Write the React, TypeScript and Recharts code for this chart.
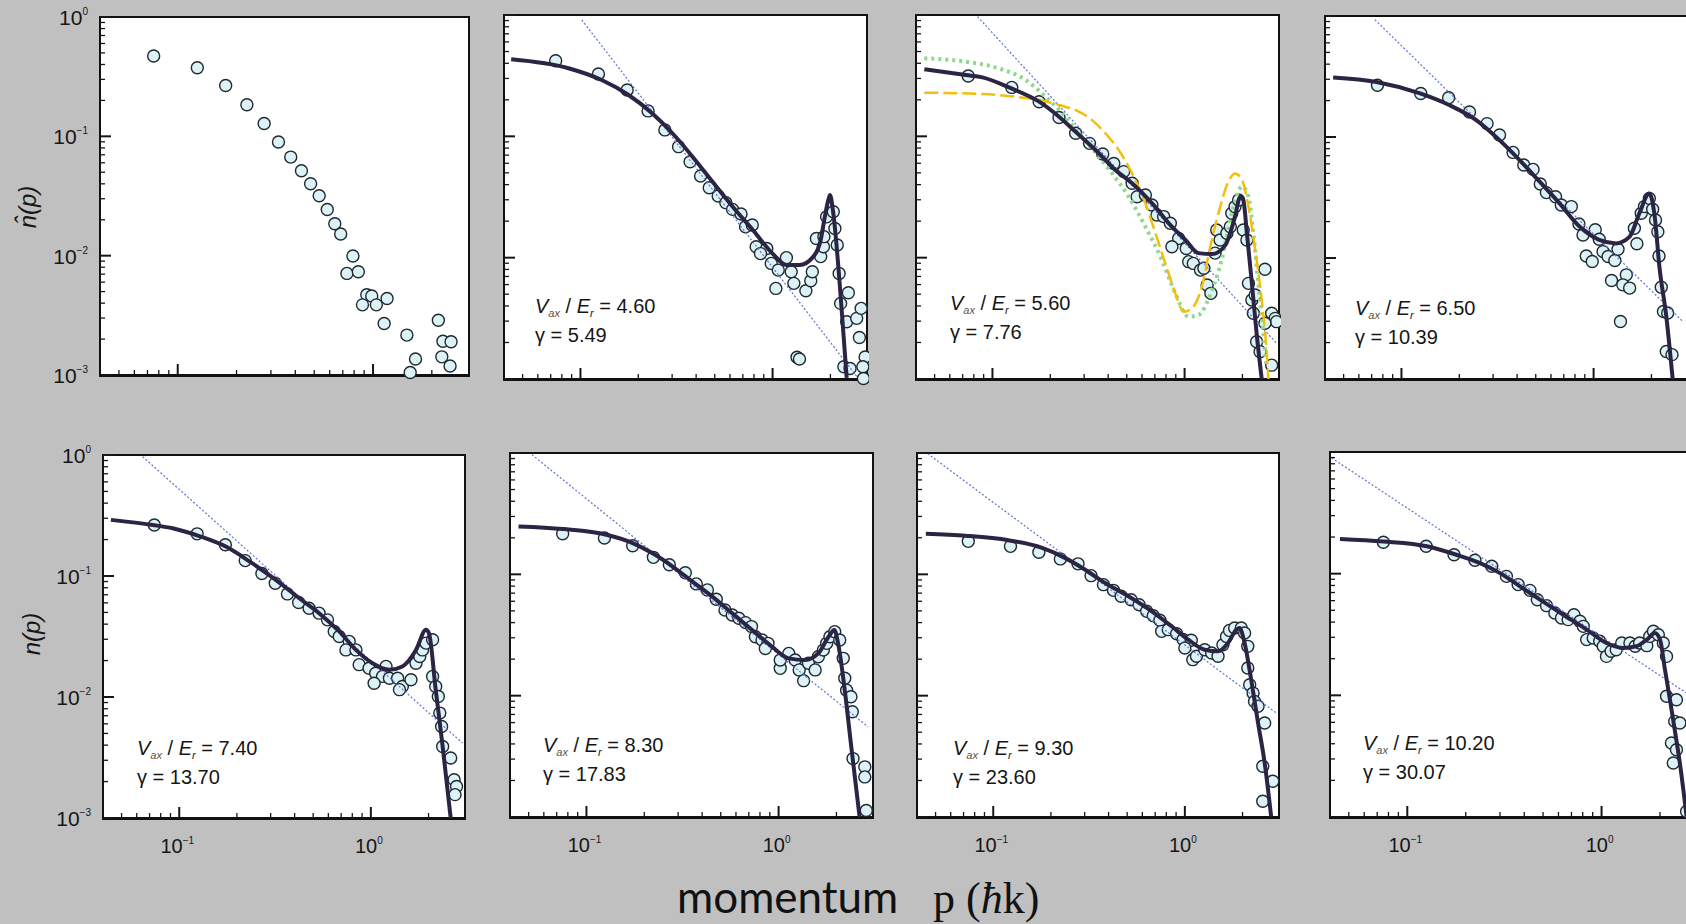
import React from "react";
import { ComposedChart, Line, Scatter, XAxis, YAxis } from "recharts";

type Pt = [number, number];

// ---- axes ----
const X_DOMAIN: [number, number] = [0.04, 3.1];
const Y_DOMAIN: [number, number] = [0.001, 1];
const X_TICKS = [0.05, 0.06, 0.07, 0.08, 0.09, 0.1, 0.2, 0.3, 0.4, 0.5, 0.6, 0.7, 0.8, 0.9, 1, 2];
const Y_TICKS = [
  0.001, 0.002, 0.003, 0.004, 0.005, 0.006, 0.007, 0.008, 0.009,
  0.01, 0.02, 0.03, 0.04, 0.05, 0.06, 0.07, 0.08, 0.09,
  0.1, 0.2, 0.3, 0.4, 0.5, 0.6, 0.7, 0.8, 0.9, 1,
];
const X_MAJOR = [0.1, 1];
const X_EXP = ["\u22121", "0"];
const Y_MAJOR = [0.001, 0.01, 0.1, 1];
const Y_EXP = ["\u22123", "\u22122", "\u22121", "0"];

// ---- panel captions ----
const V_RATIO = ["4.60", "5.60", "6.50", "7.40", "8.30", "9.30", "10.20"];
const GAMMA = ["5.49", "7.76", "10.39", "13.70", "17.83", "23.60", "30.07"];

// ---- measured n(p) and fits, [p, n] ----
const P1_POINTS: Pt[] = [
  [0.0753, 0.471], [0.126, 0.376], [0.176, 0.267], [0.226, 0.184], [0.277, 0.128], [0.328, 0.0896],
  [0.379, 0.067], [0.43, 0.0515], [0.479, 0.0401], [0.53, 0.0318], [0.583, 0.0244], [0.637, 0.0185],
  [0.683, 0.0152], [0.789, 0.00993], [0.735, 0.0071], [0.841, 0.00733], [0.929, 0.0047], [0.985, 0.00459],
  [0.883, 0.00387], [1.04, 0.00387], [1.18, 0.00438], [1.14, 0.0027], [1.49, 0.00216], [1.65, 0.00136],
  [1.55, 0.00105], [2.16, 0.00288], [2.28, 0.00192], [2.51, 0.0019], [2.25, 0.00142], [2.48, 0.00119],
];

const P2_POINTS: Pt[] = [
  [0.0743, 0.42], [0.124, 0.326], [0.175, 0.241], [0.225, 0.162], [0.275, 0.113], [0.324, 0.0822],
  [0.372, 0.0618], [0.422, 0.0471], [0.468, 0.0377], [0.521, 0.0322], [0.571, 0.0284], [0.619, 0.025],
  [0.685, 0.0229], [0.723, 0.018], [0.784, 0.0186], [0.821, 0.0123], [0.933, 0.0119], [0.865, 0.0108],
  [0.984, 0.00897], [1.18, 0.01], [1.07, 0.0079], [1.25, 0.00766], [1.04, 0.00558], [1.29, 0.00614],
  [1.49, 0.00534], [1.58, 0.00645], [1.61, 0.00766], [1.69, 0.0144], [1.78, 0.0102], [1.84, 0.0123],
  [1.85, 0.0149], [1.91, 0.0217], [2.07, 0.0239], [2.11, 0.0174], [2.17, 0.0127], [2.22, 0.00742],
  [2.26, 0.0042], [2.48, 0.00514], [2.43, 0.00296], [2.74, 0.00316], [2.89, 0.00382], [2.83, 0.0022],
  [3.03, 0.00152], [2.95, 0.00126], [2.97, 0.00101], [2.35, 0.00126], [2.53, 0.00122], [1.34, 0.00151],
  [1.38, 0.00146],
];
const P2_FIT: Pt[] = [
  [0.0436, 0.431], [0.0866, 0.364], [0.129, 0.291], [0.178, 0.219], [0.236, 0.155], [0.301, 0.106],
  [0.383, 0.068], [0.487, 0.0422], [0.62, 0.0263], [0.789, 0.0169], [1.0, 0.0108], [1.18, 0.0087],
  [1.38, 0.0087], [1.63, 0.0102], [1.78, 0.014], [1.87, 0.0217], [1.95, 0.0298], [1.99, 0.0328],
  [2.07, 0.0232], [2.2, 0.0084], [2.33, 0.00253], [2.43, 0.00102],
];
const P2_POWER: Pt[] = [[0.1016, 0.91], [2.74, 0.00105]];

const P3_POINTS: Pt[] = [
  [0.0748, 0.314], [0.126, 0.253], [0.175, 0.193], [0.222, 0.143], [0.271, 0.106], [0.32, 0.0875],
  [0.375, 0.0715], [0.428, 0.0598], [0.482, 0.0512], [0.533, 0.041], [0.566, 0.0318], [0.625, 0.0328],
  [0.676, 0.0272], [0.718, 0.0225], [0.778, 0.0218], [0.843, 0.0192], [0.931, 0.0144], [0.859, 0.0123],
  [1.02, 0.0119], [1.05, 0.00927], [1.11, 0.00897], [1.21, 0.0079], [1.26, 0.00817], [1.31, 0.00595],
  [1.37, 0.00508], [1.47, 0.0169], [1.53, 0.014], [1.44, 0.0109], [1.66, 0.0159], [1.73, 0.018],
  [1.76, 0.0232], [1.83, 0.0263], [1.91, 0.0299], [2.02, 0.0169], [2.11, 0.014], [2.15, 0.00614],
  [2.24, 0.00448], [2.33, 0.00492], [2.28, 0.00348], [2.62, 0.00802], [2.37, 0.00203], [2.47, 0.00168],
  [2.84, 0.00348], [2.96, 0.00316], [3.01, 0.00297], [2.84, 0.0013], [2.62, 0.00288],
];
const P3_FIT: Pt[] = [
  [0.0442, 0.357], [0.0727, 0.32], [0.0887, 0.306], [0.122, 0.253], [0.175, 0.193], [0.222, 0.145],
  [0.271, 0.109], [0.344, 0.0771], [0.436, 0.0528], [0.533, 0.041], [0.676, 0.0281], [0.859, 0.018],
  [1.01, 0.014], [1.18, 0.0109], [1.39, 0.0107], [1.63, 0.0127], [1.83, 0.0218], [1.95, 0.0318],
  [2.02, 0.0299], [2.11, 0.0159], [2.24, 0.00614], [2.37, 0.00238], [2.52, 0.001],
];
const P3_GREEN: Pt[] = [
  [0.0442, 0.44], [0.0727, 0.412], [0.108, 0.363], [0.149, 0.291], [0.189, 0.212], [0.231, 0.155],
  [0.282, 0.106], [0.358, 0.068], [0.42, 0.0495], [0.512, 0.0318], [0.625, 0.018], [0.762, 0.00957],
  [0.895, 0.00508], [1.05, 0.00326], [1.18, 0.00337], [1.39, 0.00542], [1.56, 0.00957], [1.76, 0.0232],
  [1.99, 0.0385], [2.15, 0.0318], [2.28, 0.0159], [2.42, 0.00614], [2.57, 0.00238], [2.67, 0.00126],
];
const P3_YELLOW: Pt[] = [
  [0.0442, 0.229], [0.0887, 0.223], [0.132, 0.212], [0.175, 0.199], [0.222, 0.181], [0.282, 0.16],
  [0.33, 0.136], [0.387, 0.106], [0.454, 0.0771], [0.533, 0.0495], [0.625, 0.0281], [0.705, 0.0159],
  [0.794, 0.00897], [0.895, 0.00508], [0.989, 0.00359], [1.09, 0.00382], [1.23, 0.00577], [1.36, 0.0123],
  [1.5, 0.0232], [1.69, 0.0423], [1.83, 0.0495], [1.99, 0.0437], [2.15, 0.0263], [2.33, 0.0116],
  [2.52, 0.00448], [2.67, 0.00173], [2.73, 0.001],
];
const P3_POWER: Pt[] = [[0.0836, 0.97], [3.01, 0.00197]];

const P4_POINTS: Pt[] = [
  [0.075, 0.268], [0.126, 0.229], [0.176, 0.211], [0.226, 0.161], [0.279, 0.129], [0.324, 0.104],
  [0.381, 0.0746], [0.433, 0.0587], [0.484, 0.054], [0.528, 0.0409], [0.568, 0.0347], [0.634, 0.0321],
  [0.679, 0.0274], [0.766, 0.0266], [0.839, 0.0191], [0.881, 0.0155], [1.02, 0.0171], [1.07, 0.0143],
  [0.916, 0.0104], [0.984, 0.00935], [1.12, 0.0113], [1.19, 0.0103], [1.29, 0.00953], [1.34, 0.0118],
  [1.24, 0.00652], [1.48, 0.00726], [1.42, 0.006], [1.54, 0.00564], [1.38, 0.00299], [1.63, 0.0176],
  [1.68, 0.0131], [1.77, 0.0234], [1.84, 0.0266], [1.95, 0.0311], [2.03, 0.0253], [2.1, 0.0206],
  [2.16, 0.0165], [2.19, 0.0104], [2.25, 0.00574], [2.31, 0.00361], [2.43, 0.00351], [2.39, 0.00169],
  [2.56, 0.00159],
];
const P4_FIT: Pt[] = [
  [0.0441, 0.31], [0.0741, 0.285], [0.125, 0.229], [0.178, 0.183], [0.245, 0.138], [0.324, 0.0942],
  [0.412, 0.0645], [0.524, 0.0427], [0.665, 0.0283], [0.845, 0.0182], [1.07, 0.0141], [1.31, 0.0132],
  [1.54, 0.015], [1.73, 0.0234], [1.95, 0.0342], [2.08, 0.022], [2.2, 0.00851], [2.39, 0.00329],
  [2.58, 0.001],
];
const P4_POWER: Pt[] = [[0.0727, 0.933], [2.91, 0.00299]];

const P5_POINTS: Pt[] = [
  [0.0741, 0.264], [0.124, 0.223], [0.174, 0.181], [0.221, 0.134], [0.27, 0.105], [0.317, 0.0871],
  [0.367, 0.0711], [0.42, 0.0604], [0.476, 0.0542], [0.537, 0.0493], [0.594, 0.0434], [0.644, 0.0348],
  [0.684, 0.0316], [0.771, 0.0288], [0.741, 0.0245], [0.836, 0.0245], [0.869, 0.0185], [0.979, 0.0173],
  [1.06, 0.0157], [1.2, 0.0179], [1.15, 0.0148], [1.04, 0.013], [1.25, 0.0143], [1.38, 0.0143],
  [1.46, 0.0122], [1.62, 0.0139], [1.41, 0.0115], [1.72, 0.019], [1.8, 0.0216], [1.86, 0.0245],
  [1.94, 0.0279], [2.1, 0.0297], [2.1, 0.0148], [2.18, 0.0122], [2.25, 0.0101], [2.29, 0.00736],
  [2.34, 0.00571], [2.37, 0.0039], [2.61, 0.00313], [2.72, 0.00207], [2.8, 0.00182], [2.75, 0.00156],
];
const P5_FIT: Pt[] = [
  [0.044, 0.291], [0.0726, 0.264], [0.0923, 0.248], [0.127, 0.214], [0.175, 0.175], [0.241, 0.127],
  [0.319, 0.0929], [0.423, 0.0655], [0.537, 0.0493], [0.684, 0.0348], [0.836, 0.0245], [1.02, 0.019],
  [1.25, 0.0168], [1.46, 0.0179], [1.72, 0.0245], [1.94, 0.0359], [2.01, 0.0337], [2.18, 0.0115],
  [2.37, 0.0039], [2.61, 0.001],
];
const P5_POWER: Pt[] = [[0.0644, 0.97], [3.01, 0.00416]];

const P6_POINTS: Pt[] = [
  [0.0752, 0.216], [0.124, 0.199], [0.174, 0.172], [0.223, 0.138], [0.27, 0.12], [0.327, 0.103],
  [0.373, 0.0834], [0.426, 0.0744], [0.474, 0.0623], [0.526, 0.0508], [0.574, 0.0462], [0.621, 0.0434],
  [0.673, 0.04], [0.723, 0.0371], [0.757, 0.0306], [0.82, 0.0288], [0.881, 0.027], [0.853, 0.0245],
  [1.02, 0.0168], [1.02, 0.0197], [1.13, 0.0223], [1.22, 0.0197], [1.28, 0.0163], [1.35, 0.0133],
  [1.43, 0.0185], [1.55, 0.0163], [1.61, 0.0209], [1.71, 0.0238], [1.78, 0.027], [1.85, 0.0306],
  [1.96, 0.0337], [2.08, 0.0288], [2.17, 0.0203], [2.21, 0.0139], [2.26, 0.0111], [2.38, 0.0098],
  [2.42, 0.00736], [2.44, 0.00303], [2.81, 0.00259], [2.81, 0.00214], [2.86, 0.00113],
];
const P6_FIT: Pt[] = [
  [0.0443, 0.248], [0.0757, 0.236], [0.127, 0.212], [0.174, 0.181], [0.221, 0.149], [0.281, 0.116],
  [0.356, 0.0871], [0.452, 0.0655], [0.574, 0.0477], [0.728, 0.0348], [0.925, 0.0253], [1.13, 0.0203],
  [1.37, 0.0197], [1.61, 0.0223], [1.82, 0.0306], [1.95, 0.0348], [2.04, 0.027], [2.21, 0.0111],
  [2.39, 0.00378], [2.64, 0.001],
];
const P6_POWER: Pt[] = [[0.052, 0.97], [2.92, 0.00553]];

const P7_POINTS: Pt[] = [
  [0.0741, 0.187], [0.123, 0.17], [0.173, 0.152], [0.224, 0.134], [0.277, 0.122], [0.324, 0.0975],
  [0.376, 0.0822], [0.424, 0.0738], [0.465, 0.0659], [0.524, 0.0618], [0.577, 0.0562], [0.632, 0.0496],
  [0.684, 0.0456], [0.741, 0.0418], [0.757, 0.0339], [0.819, 0.035], [0.906, 0.0324], [0.979, 0.029],
  [1.08, 0.0286], [1.0, 0.0247], [1.1, 0.0198], [1.15, 0.0211], [1.27, 0.0239], [1.38, 0.0225],
  [1.49, 0.0211], [1.58, 0.0263], [1.65, 0.0308], [1.71, 0.0345], [1.82, 0.0361], [1.97, 0.0361],
  [2.05, 0.0328], [2.13, 0.0255], [2.13, 0.0169], [2.18, 0.0123], [2.27, 0.0105], [2.31, 0.00897],
  [2.41, 0.00817], [2.61, 0.00595], [2.55, 0.00262], [2.88, 0.00197], [2.55, 0.00135],
];
const P7_FIT: Pt[] = [
  [0.0445, 0.216], [0.0718, 0.208], [0.12, 0.191], [0.18, 0.165], [0.238, 0.136], [0.302, 0.109],
  [0.384, 0.0848], [0.507, 0.0659], [0.672, 0.0496], [0.853, 0.0373], [1.04, 0.029], [1.27, 0.0239],
  [1.49, 0.0232], [1.68, 0.0272], [1.86, 0.035], [1.93, 0.0361], [2.05, 0.0272], [2.22, 0.0135],
  [2.41, 0.00595], [2.61, 0.00279], [2.82, 0.00101],
];
const P7_POWER: Pt[] = [[0.0454, 0.99], [3.0, 0.0072]];

const P8_POINTS: Pt[] = [
  [0.0753, 0.181], [0.125, 0.168], [0.174, 0.143], [0.223, 0.129], [0.272, 0.115], [0.324, 0.095],
  [0.372, 0.0813], [0.428, 0.0729], [0.467, 0.0611], [0.521, 0.0546], [0.575, 0.0475], [0.622, 0.0432],
  [0.673, 0.0419], [0.721, 0.046], [0.774, 0.0406], [0.805, 0.0369], [0.838, 0.0287], [0.906, 0.0296],
  [0.979, 0.0278], [1.02, 0.0253], [1.06, 0.0209], [1.12, 0.023], [1.19, 0.0237], [1.27, 0.0269],
  [1.4, 0.0269], [1.49, 0.0253], [1.57, 0.0269], [1.71, 0.0256], [1.77, 0.0305], [1.85, 0.0336],
  [1.96, 0.0315], [2.08, 0.0269], [2.16, 0.0209], [2.16, 0.00982], [2.43, 0.0092], [2.38, 0.00611],
  [2.53, 0.00593], [2.29, 0.00406], [2.43, 0.00357], [2.34, 0.00278], [2.74, 0.00111],
];
const P8_FIT: Pt[] = [
  [0.045, 0.193], [0.0753, 0.184], [0.126, 0.168], [0.179, 0.143], [0.237, 0.122], [0.3, 0.101],
  [0.38, 0.0787], [0.482, 0.0611], [0.635, 0.046], [0.838, 0.0347], [1.06, 0.0269], [1.29, 0.0245],
  [1.51, 0.0253], [1.71, 0.0287], [1.88, 0.0325], [2.0, 0.0287], [2.12, 0.0163], [2.25, 0.0092],
  [2.38, 0.00522], [2.53, 0.00278], [2.74, 0.00101],
];
const P8_POWER: Pt[] = [[0.0408, 0.893], [2.72, 0.0105]];

// ---- layout: plot-area boxes in page pixels ----
const LAYOUT = [
  { left: 100, top: 17, width: 369, height: 358 },
  { left: 504, top: 15, width: 363, height: 364 },
  { left: 916, top: 15, width: 363, height: 364 },
  { left: 1325, top: 16, width: 363, height: 363 },
  { left: 103, top: 455, width: 362, height: 363 },
  { left: 510, top: 453, width: 363, height: 364 },
  { left: 917, top: 453, width: 362, height: 364 },
  { left: 1330, top: 452, width: 367, height: 365 },
];
const CAPTION_POS: Pt[] = [
  [535, 313], [950, 310], [1355, 315], [137, 755], [543, 752], [953, 755], [1363, 750],
];

const AXIS_W = 60;
const AXIS_H = 50;
const PAD_TOP = 20;
const FONT = "'Liberation Sans', Arial, Helvetica, sans-serif";
const INK = "#161616";
const FIT_COLOR = "#2b2444";
const POWER_COLOR = "#5d72d2";

interface Extra {
  pts: Pt[];
  color: string;
  width: number;
  dash: string;
}

interface PanelDef {
  points: Pt[];
  fit?: Pt[];
  power?: Pt[];
  extras?: Extra[];
}

const PANELS: PanelDef[] = [
  { points: P1_POINTS },
  { points: P2_POINTS, fit: P2_FIT, power: P2_POWER },
  {
    points: P3_POINTS,
    fit: P3_FIT,
    power: P3_POWER,
    extras: [
      { pts: P3_GREEN, color: "#8fd88c", width: 4, dash: "3 4" },
      { pts: P3_YELLOW, color: "#f4be0c", width: 2.5, dash: "14 5" },
    ],
  },
  { points: P4_POINTS, fit: P4_FIT, power: P4_POWER },
  { points: P5_POINTS, fit: P5_FIT, power: P5_POWER },
  { points: P6_POINTS, fit: P6_FIT, power: P6_POWER },
  { points: P7_POINTS, fit: P7_FIT, power: P7_POWER },
  { points: P8_POINTS, fit: P8_FIT, power: P8_POWER },
];

const rows = (pts: Pt[]) => pts.map(([p, n]) => ({ p, n }));

const Marker = (props: any) => (
  <circle cx={props.cx} cy={props.cy} r={6} fill="#dcf2f6" stroke="#1d2a30" strokeWidth={1.4} />
);

// ticks point into the plot; only decades carry a label
function XTick({ x, y, payload, show }: any) {
  const idx = X_MAJOR.indexOf(payload.value);
  const major = idx >= 0;
  return (
    <g>
      <line x1={x} x2={x} y1={y} y2={y - (major ? 11 : 5)} stroke={INK} strokeWidth={major ? 2 : 1.3} />
      {show && major && (
        <text x={x - 2} y={y + 35} textAnchor="middle" fontSize={20} fill={INK} fontFamily={FONT}>
          10
          <tspan dy={-9} fontSize={10}>{X_EXP[idx]}</tspan>
        </text>
      )}
    </g>
  );
}

function YTick({ x, y, payload, show }: any) {
  const idx = Y_MAJOR.indexOf(payload.value);
  const major = idx >= 0;
  return (
    <g>
      <line x1={x} x2={x + (major ? 11 : 5)} y1={y} y2={y} stroke={INK} strokeWidth={major ? 2 : 1.3} />
      {show && major && (
        <text x={x - 12} y={y + 8} textAnchor="end" fontSize={21} fill={INK} fontFamily={FONT}>
          10
          <tspan dy={-10} fontSize={10}>{Y_EXP[idx]}</tspan>
        </text>
      )}
    </g>
  );
}

function Panel({ def, box, xLabels, yLabels }: { def: PanelDef; box: typeof LAYOUT[0]; xLabels: boolean; yLabels: boolean }) {
  return (
    <div style={{ position: "absolute", left: box.left - AXIS_W, top: box.top - PAD_TOP }}>
      <ComposedChart
        width={AXIS_W + box.width + 2}
        height={box.height + PAD_TOP + AXIS_H}
        margin={{ top: PAD_TOP, right: 2, bottom: 0, left: 0 }}
      >
        <XAxis
          type="number"
          dataKey="p"
          scale="log"
          domain={X_DOMAIN}
          ticks={X_TICKS}
          interval={0}
          height={AXIS_H}
          axisLine={false}
          tickLine={false}
          tickSize={0}
          tickMargin={0}
          tick={(t: any) => <XTick {...t} show={xLabels} />}
        />
        <YAxis
          type="number"
          dataKey="n"
          scale="log"
          domain={Y_DOMAIN}
          ticks={Y_TICKS}
          interval={0}
          width={AXIS_W}
          axisLine={false}
          tickLine={false}
          tickSize={0}
          tickMargin={0}
          tick={(t: any) => <YTick {...t} show={yLabels} />}
        />
        <Scatter data={rows(def.points)} dataKey="n" shape={Marker} isAnimationActive={false} zIndex={350} />
        {def.power && (
          <Line
            data={rows(def.power)}
            dataKey="n"
            type="linear"
            stroke={POWER_COLOR}
            strokeWidth={1.2}
            strokeDasharray="2 2"
            dot={false}
            activeDot={false}
            isAnimationActive={false}
          />
        )}
        {(def.extras || []).map((e, i) => (
          <Line
            key={i}
            data={rows(e.pts)}
            dataKey="n"
            type="monotone"
            stroke={e.color}
            strokeWidth={e.width}
            strokeDasharray={e.dash}
            dot={false}
            activeDot={false}
            isAnimationActive={false}
          />
        ))}
        {def.fit && (
          <Line
            data={rows(def.fit)}
            dataKey="n"
            type="monotone"
            stroke={FIT_COLOR}
            strokeWidth={4}
            dot={false}
            activeDot={false}
            isAnimationActive={false}
          />
        )}
      </ComposedChart>
    </div>
  );
}

export default function App() {
  return (
    <div
      style={{
        position: "fixed",
        left: 0,
        top: 0,
        width: 1686,
        height: 924,
        background: "#c0c0c0",
        overflow: "hidden",
        fontFamily: FONT,
      }}
    >
      {LAYOUT.map((b, i) => (
        <div
          key={"frame" + i}
          style={{
            position: "absolute",
            left: b.left - 1,
            top: b.top - 1,
            width: b.width + 2,
            height: b.height + 3,
            boxSizing: "border-box",
            background: "#fff",
            borderStyle: "solid",
            borderColor: "#111",
            borderWidth: "2px 2px 3px 2px",
          }}
        />
      ))}
      {PANELS.map((def, i) => (
        <Panel key={i} def={def} box={LAYOUT[i]} xLabels={i >= 4} yLabels={i === 0 || i === 4} />
      ))}
      <svg
        width={1686}
        height={924}
        style={{ position: "absolute", left: 0, top: 0, pointerEvents: "none" }}
      >
        <text
          transform="translate(36,207) rotate(-90)"
          textAnchor="middle"
          fontSize={24}
          fontStyle="italic"
          fill={INK}
          fontFamily={FONT}
        >
          {"n\u0302(p)"}
        </text>
        <text
          transform="translate(40,634) rotate(-90)"
          textAnchor="middle"
          fontSize={24}
          fontStyle="italic"
          fill={INK}
          fontFamily={FONT}
        >
          n(p)
        </text>
        {CAPTION_POS.map(([x, y], i) => (
          <g key={i} fontSize={20} fill={INK} fontFamily={FONT}>
            <text x={x} y={y}>
              <tspan fontStyle="italic">V</tspan>
              <tspan fontSize={11} dy={4} fontStyle="italic" fill="#555">ax</tspan>
              <tspan dy={-4}>{" / "}</tspan>
              <tspan fontStyle="italic">E</tspan>
              <tspan fontSize={11} dy={4} fontStyle="italic">r</tspan>
              <tspan dy={-4}>{" = " + V_RATIO[i]}</tspan>
            </text>
            <text x={x} y={y + 29}>{"\u03b3 = " + GAMMA[i]}</text>
          </g>
        ))}
        <text x={677} y={913} fontSize={44} fill="#111">
          <tspan fontFamily="Lato, 'Open Sans', sans-serif">momentum</tspan>
          <tspan x={933} fontFamily="'Liberation Serif', 'DejaVu Serif', serif">
            {"p ("}
            <tspan fontStyle="italic">{"\u0127"}</tspan>
            {"k)"}
          </tspan>
        </text>
      </svg>
    </div>
  );
}
